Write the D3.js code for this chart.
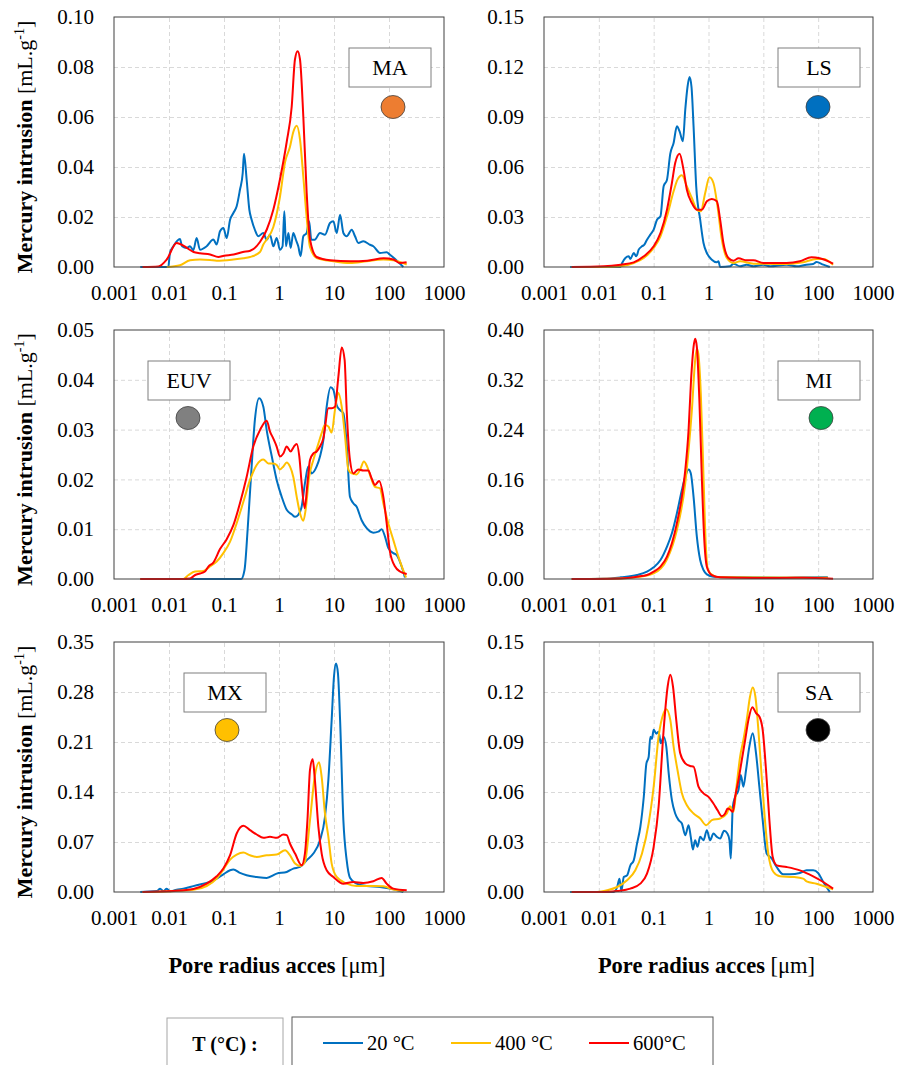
<!DOCTYPE html>
<meta charset="utf-8">
<head>
<style>
  body { margin: 0; background: #fff; }
  svg { font-family: "Liberation Serif", "Times New Roman", serif; }
  .grid line { stroke: #d9d9d9; stroke-dasharray: 4,3; }
  .grid path { display: none; }
  .axis path, .axis line { display: none; }
  .axis text { font-family: "Liberation Serif", serif; font-size: 21px; fill: #000; }
</style>
</head>
<body>
<svg id="chart" width="908" height="1065"></svg>
<script src="https://d3js.org/d3.v7.min.js"></script>
<script>

// x axis (pore radius, log)
var xTicks = [0.001, 0.01, 0.1, 1, 10, 100, 1000];
var xTickLabels = ["0.001", "0.01", "0.1", "1", "10", "100", "1000"];

// y ticks per panel
var maTicks = [0, 0.02, 0.04, 0.06, 0.08, 0.10];
var lsTicks = [0, 0.03, 0.06, 0.09, 0.12, 0.15];
var euvTicks = [0, 0.01, 0.02, 0.03, 0.04, 0.05];
var miTicks = [0, 0.08, 0.16, 0.24, 0.32, 0.40];
var mxTicks = [0, 0.07, 0.14, 0.21, 0.28, 0.35];
var saTicks = [0, 0.03, 0.06, 0.09, 0.12, 0.15];

var panelNames = ["MA", "LS", "EUV", "MI", "MX", "SA"];
var seriesNames = ["20 °C", "400 °C", "600°C"];

// [radius µm, intrusion mL/g]
var maBlue = [[0.003,0],[0.0097,0],[0.0104,0.0056],[0.012,0.0083],[0.0158,0.0112],[0.0173,0.0083],[0.021,0.0076],[0.0241,0.0083],[0.0277,0.0067],[0.0318,0.0116],[0.0366,0.0069],[0.0484,0.0083],[0.064,0.011],[0.0736,0.009],[0.0846,0.0143],[0.0973,0.0156],[0.112,0.0116],[0.129,0.0189],[0.148,0.0216],[0.17,0.0243],[0.195,0.0309],[0.219,0.0376],[0.231,0.0453],[0.258,0.035],[0.289,0.0229],[0.318,0.0189],[0.364,0.0149],[0.418,0.0123],[0.519,0.0136],[0.597,0.0109],[0.686,0.0129],[0.789,0.0083],[0.907,0.0116],[1.04,0.0069],[1.16,0.0083],[1.25,0.0223],[1.34,0.0083],[1.48,0.0136],[1.63,0.0076],[1.82,0.0136],[2.03,0.0109],[2.24,0.0083],[2.47,0.0043],[2.77,0.0123],[3.18,0.0136],[3.53,0.0183],[3.87,0.0109],[4.45,0.0109],[5.56,0.0136],[6.85,0.0129],[8.46,0.0176],[9.73,0.0183],[11.2,0.0136],[12.9,0.0209],[14.8,0.0136],[17,0.0123],[21,0.0149],[24.1,0.0123],[27.7,0.0096],[34.1,0.0103],[45.1,0.0089],[51.9,0.0083],[68.6,0.0056],[90.7,0.0059],[104,0.0049],[129,0.0032],[182,0]];
var maYellow = [[0.0091,0],[0.0158,0.0007],[0.0241,0.0027],[0.0366,0.003],[0.0556,0.0028],[0.0736,0.0025],[0.148,0.003],[0.225,0.0035],[0.297,0.004],[0.451,0.006],[0.519,0.009],[0.597,0.011],[0.789,0.016],[1.04,0.028],[1.29,0.042],[1.58,0.048],[1.82,0.054],[2.1,0.0565],[2.41,0.051],[2.77,0.036],[3.18,0.02],[3.66,0.008],[4.84,0.0036],[9.73,0.0023],[19.5,0.0016],[39.3,0.0023],[78.9,0.003],[120,0.0027],[210,0.001]];
var maRed = [[0.0033,0],[0.0064,0.0002],[0.0091,0.003],[0.0138,0.0096],[0.02,0.008],[0.028,0.006],[0.0366,0.0055],[0.056,0.005],[0.079,0.004],[0.1,0.0045],[0.15,0.005],[0.22,0.006],[0.3,0.0065],[0.45,0.01],[0.6,0.015],[0.79,0.023],[1.04,0.035],[1.38,0.05],[1.7,0.064],[1.95,0.083],[2.18,0.0863],[2.41,0.083],[2.77,0.06],[3.18,0.03],[3.66,0.011],[4.84,0.004],[8.5,0.0027],[20,0.0023],[40,0.0025],[80,0.0035],[120,0.003],[158,0.0016],[209,0.0019]];

var lsBlue = [[0.003,0],[0.0248,0],[0.0266,0.0024],[0.0305,0.0054],[0.0351,0.0064],[0.0376,0.0048],[0.0433,0.0084],[0.0484,0.0064],[0.0533,0.0104],[0.0613,0.0124],[0.0676,0.0134],[0.0756,0.0164],[0.0869,0.0194],[0.1,0.0224],[0.115,0.0284],[0.133,0.0304],[0.152,0.0484],[0.175,0.0524],[0.201,0.068],[0.231,0.0744],[0.265,0.0844],[0.297,0.0814],[0.341,0.0754],[0.377,0.0944],[0.414,0.108],[0.451,0.114],[0.49,0.108],[0.534,0.0844],[0.597,0.0484],[0.705,0.0284],[0.811,0.0144],[0.933,0.0084],[1.15,0.0044],[1.42,0.0028],[1.52,0.0034],[1.63,0],[2.47,0.0004],[2.85,0.002],[3.77,0.0004],[4.98,0.0014],[6.59,0.0004],[10,0.0014],[13.3,0.0004],[26.5,0.0014],[40.4,0.0004],[61.4,0.0014],[81.2,0.0018],[93.3,0.003],[124,0.0014],[163,0]];
var lsYellow = [[0.0032,0],[0.0124,0],[0.025,0.0004],[0.0433,0.0024],[0.066,0.0054],[0.1,0.0114],[0.133,0.0184],[0.175,0.0304],[0.231,0.0454],[0.272,0.0524],[0.327,0.055],[0.403,0.0484],[0.497,0.0414],[0.613,0.0344],[0.724,0.0334],[0.87,0.0444],[1.04,0.0538],[1.23,0.0504],[1.46,0.0364],[1.75,0.0164],[2.16,0.0054],[2.85,0.0024],[3.77,0.0034],[6.59,0.002],[26.5,0.0018],[53,0.0028],[93.3,0.0048],[124,0.0048],[187,0.0014]];
var lsRed = [[0.0032,0],[0.0124,0.0004],[0.025,0.0014],[0.0433,0.0028],[0.066,0.0064],[0.1,0.0124],[0.133,0.0204],[0.175,0.0344],[0.215,0.0504],[0.247,0.0624],[0.297,0.068],[0.35,0.0584],[0.403,0.0464],[0.497,0.0384],[0.613,0.0344],[0.755,0.0344],[0.933,0.0394],[1.15,0.0408],[1.42,0.0394],[1.63,0.0284],[1.87,0.0144],[2.31,0.0054],[2.85,0.0038],[3.52,0.0052],[4.98,0.004],[6.59,0.004],[10,0.0024],[26.5,0.0024],[46.4,0.0034],[75.6,0.0058],[107,0.0052],[187,0.002]];

var euvBlue = [[0.003,0],[0.205,0],[0.236,0.0018],[0.271,0.0105],[0.318,0.0226],[0.364,0.0319],[0.436,0.0363],[0.519,0.0346],[0.597,0.0299],[0.74,0.0246],[0.907,0.0199],[1.12,0.0165],[1.38,0.0139],[1.7,0.013],[1.96,0.0125],[2.24,0.0129],[2.58,0.0145],[2.96,0.0192],[3.41,0.0226],[3.93,0.0212],[4.84,0.0226],[5.56,0.0246],[6.4,0.0279],[7.36,0.0346],[8.68,0.0385],[9.73,0.038],[11.2,0.0349],[12.9,0.0339],[14.8,0.0333],[17,0.0272],[19.5,0.0165],[22.5,0.0152],[25.8,0.0145],[31.8,0.0118],[39.3,0.0102],[51.9,0.0093],[64,0.0095],[73.6,0.01],[84.6,0.0085],[97.3,0.0062],[120,0.0052],[138,0.0048],[170,0.0025],[195,0.0003]];
var euvYellow = [[0.003,0],[0.0182,0],[0.0226,0.0008],[0.0299,0.0015],[0.0421,0.0016],[0.0556,0.0025],[0.0736,0.0035],[0.0973,0.0052],[0.129,0.0075],[0.17,0.0112],[0.225,0.0155],[0.297,0.0199],[0.393,0.0229],[0.519,0.024],[0.64,0.0232],[0.789,0.0232],[0.907,0.0229],[1.04,0.022],[1.2,0.0226],[1.38,0.0234],[1.58,0.0226],[1.82,0.0205],[2.1,0.0165],[2.41,0.0132],[2.77,0.0117],[3.05,0.0139],[3.53,0.0205],[4.21,0.0239],[5.2,0.0272],[5.97,0.0293],[6.85,0.0309],[7.9,0.0306],[9.07,0.0294],[10.4,0.0339],[12,0.0374],[13.8,0.0346],[15.9,0.0286],[18.3,0.0219],[21,0.0212],[25.8,0.021],[29.7,0.0219],[35,0.0236],[40,0.0226],[48.4,0.0199],[55.7,0.0185],[68.6,0.0182],[78.9,0.0152],[97,0.0112],[120,0.0078],[148,0.0045],[204,0.0003]];
var euvRed = [[0.003,0],[0.0182,0],[0.0241,0.0001],[0.0299,0.0008],[0.0366,0.0011],[0.045,0.0015],[0.052,0.0025],[0.064,0.0033],[0.0846,0.006],[0.112,0.008],[0.148,0.0108],[0.195,0.0152],[0.258,0.0205],[0.341,0.0266],[0.451,0.0299],[0.597,0.0318],[0.686,0.0296],[0.789,0.0282],[0.907,0.0266],[1.04,0.0246],[1.2,0.0252],[1.38,0.0266],[1.63,0.0256],[1.87,0.0266],[2.1,0.0271],[2.34,0.0246],[2.58,0.0192],[2.93,0.0142],[3.29,0.0192],[3.66,0.0239],[4.21,0.0252],[4.84,0.0256],[5.56,0.0266],[6.4,0.0282],[7.9,0.0343],[9.07,0.0343],[10.4,0.0346],[12,0.0406],[13.8,0.0465],[15.6,0.044],[17,0.0339],[19.5,0.0239],[22.5,0.0212],[27.7,0.022],[34.1,0.0218],[42,0.0218],[48.4,0.0202],[55.7,0.0189],[66,0.0197],[78.9,0.0165],[90.7,0.0112],[104,0.0055],[129,0.0025],[158,0.0015],[210,0.001]];

var miBlue = [[0.0032,0],[0.0124,0.0005],[0.025,0.0027],[0.0497,0.0064],[0.0756,0.0118],[0.1,0.0187],[0.133,0.0305],[0.175,0.052],[0.215,0.0734],[0.265,0.1055],[0.327,0.143],[0.377,0.1644],[0.433,0.176],[0.475,0.17],[0.534,0.132],[0.613,0.068],[0.705,0.0305],[0.811,0.0145],[0.933,0.0075],[1.23,0.0037],[3.3,0.0027],[26.5,0.0022],[150,0.0027]];
var miYellow = [[0.0032,0],[0.025,0.0008],[0.0497,0.003],[0.1,0.009],[0.175,0.0316],[0.265,0.0787],[0.377,0.154],[0.433,0.207],[0.497,0.271],[0.572,0.352],[0.613,0.37],[0.652,0.362],[0.724,0.298],[0.811,0.164],[0.89,0.057],[0.98,0.0145],[1.23,0.0054],[1.63,0.0027],[90,0.0022],[150,0.002]];
var miRed = [[0.0032,0],[0.025,0.001],[0.0497,0.0037],[0.0756,0.0064],[0.1,0.0118],[0.133,0.0198],[0.175,0.0359],[0.215,0.0573],[0.265,0.0894],[0.327,0.132],[0.377,0.175],[0.433,0.239],[0.481,0.32],[0.534,0.373],[0.572,0.386],[0.613,0.373],[0.685,0.282],[0.755,0.164],[0.832,0.068],[0.933,0.0198],[1.15,0.0064],[1.63,0.0027],[6.6,0.0016],[53,0.002],[187,0.0005]];

var mxBlue = [[0.003,0],[0.006,0.0014],[0.0069,0.0047],[0.0079,0.0014],[0.0091,0.0047],[0.0104,0.001],[0.0138,0.0033],[0.0182,0.0047],[0.0241,0.007],[0.0318,0.0094],[0.0421,0.0117],[0.0556,0.014],[0.0736,0.0187],[0.0973,0.0248],[0.129,0.0304],[0.148,0.0314],[0.195,0.0267],[0.258,0.0234],[0.393,0.0211],[0.597,0.0197],[0.907,0.0257],[1.38,0.0281],[1.82,0.0328],[2.41,0.0351],[3.18,0.0445],[4.21,0.0538],[5.56,0.0725],[6.85,0.105],[7.9,0.157],[9.07,0.241],[10,0.302],[10.9,0.32],[11.8,0.306],[12.9,0.241],[14.8,0.1006],[17,0.0445],[19.5,0.0201],[25.8,0.0117],[39.3,0.0084],[68.6,0.007],[104,0.0047],[182,0]];
var mxYellow = [[0.0033,0],[0.0277,0.0033],[0.0484,0.0084],[0.0736,0.0187],[0.0973,0.0314],[0.129,0.0454],[0.17,0.0524],[0.225,0.0552],[0.297,0.0515],[0.393,0.0491],[0.597,0.0515],[0.907,0.0524],[1.29,0.0585],[1.58,0.0515],[1.96,0.0398],[2.41,0.0365],[2.96,0.0421],[3.66,0.1006],[4.45,0.161],[5.35,0.1816],[5.97,0.161],[6.85,0.11],[7.9,0.0772],[9.07,0.0398],[11.2,0.0211],[17,0.0117],[25.8,0.0084],[51.9,0.0084],[78.9,0.008],[120,0.0033],[182,0.0014]];
var mxRed = [[0.0033,0],[0.012,0.0014],[0.0277,0.0042],[0.0484,0.0117],[0.0736,0.022],[0.0973,0.0328],[0.129,0.0515],[0.17,0.0819],[0.225,0.0927],[0.297,0.0866],[0.393,0.0805],[0.519,0.0758],[0.686,0.0772],[0.907,0.0758],[1.2,0.0805],[1.38,0.0796],[1.58,0.0679],[1.96,0.0538],[2.58,0.0374],[2.96,0.0538],[3.29,0.1006],[3.66,0.171],[4.1,0.186],[4.45,0.161],[5.2,0.0912],[5.97,0.0538],[7.36,0.0304],[9.73,0.0211],[14.8,0.0117],[22.5,0.014],[34.1,0.0126],[51.9,0.015],[73.6,0.0197],[90.7,0.0117],[120,0.0047],[210,0.0023]];

var saBlue = [[0.003,0],[0.0187,0],[0.0216,0.003],[0.0238,0.008],[0.0258,0.0006],[0.0285,0.009],[0.0327,0.01],[0.0376,0.016],[0.0433,0.019],[0.0497,0.029],[0.0571,0.039],[0.066,0.057],[0.0736,0.077],[0.081,0.081],[0.087,0.0932],[0.093,0.092],[0.1,0.0973],[0.112,0.095],[0.123,0.0962],[0.135,0.0892],[0.152,0.0932],[0.17,0.0872],[0.188,0.0712],[0.215,0.0551],[0.247,0.0471],[0.285,0.0431],[0.327,0.0411],[0.377,0.0341],[0.433,0.0401],[0.475,0.0331],[0.519,0.0255],[0.57,0.0311],[0.63,0.0271],[0.705,0.0331],[0.811,0.0311],[0.933,0.0371],[1.07,0.0311],[1.23,0.0351],[1.42,0.0331],[1.63,0.0321],[1.92,0.0367],[2.21,0.0351],[2.41,0.0311],[2.55,0.0201],[2.77,0.0511],[3.06,0.0571],[3.52,0.0612],[3.88,0.0702],[4.33,0.0632],[4.84,0.0732],[5.56,0.0872],[6.4,0.0952],[7.36,0.0832],[8.46,0.0632],[9.73,0.0431],[11.5,0.0231],[14.2,0.0201],[17.5,0.015],[23.1,0.0106],[30.6,0.0106],[46.4,0.0114],[61.4,0.013],[81.2,0.013],[99.7,0.0114],[124,0.006],[163,0]];
var saYellow = [[0.0032,0],[0.0093,0],[0.0142,0.001],[0.0216,0.003],[0.0327,0.007],[0.0463,0.013],[0.0613,0.0231],[0.081,0.0411],[0.1,0.0632],[0.123,0.0932],[0.152,0.1073],[0.17,0.1097],[0.201,0.1033],[0.231,0.0872],[0.272,0.0732],[0.327,0.0592],[0.403,0.0521],[0.534,0.0471],[0.705,0.0441],[0.907,0.0401],[1.15,0.0431],[1.63,0.0441],[2.16,0.0471],[2.47,0.0515],[2.85,0.0481],[3.29,0.0652],[3.77,0.0812],[4.33,0.0912],[4.98,0.1033],[5.72,0.1173],[6.4,0.1227],[7.16,0.1173],[8.12,0.0973],[9.33,0.0692],[10.7,0.0431],[12.3,0.0231],[15.3,0.012],[20.1,0.0094],[35,0.009],[53.3,0.008],[61.4,0.0064],[93.3,0.005],[187,0.0016]];
var saRed = [[0.0032,0],[0.0124,0],[0.0216,0.0006],[0.0376,0.002],[0.0571,0.005],[0.0756,0.011],[0.1,0.0271],[0.123,0.0511],[0.152,0.0973],[0.18,0.1233],[0.201,0.1303],[0.225,0.1233],[0.258,0.1033],[0.305,0.0832],[0.377,0.0772],[0.463,0.0756],[0.534,0.0752],[0.657,0.0632],[0.811,0.0592],[1.0,0.0571],[1.23,0.0531],[1.46,0.0491],[1.75,0.0455],[2.01,0.0471],[2.24,0.0501],[2.47,0.0495],[2.77,0.0481],[3.06,0.0571],[3.52,0.0672],[4.05,0.0792],[4.66,0.0912],[5.35,0.1033],[6.32,0.1109],[7.36,0.1073],[8.46,0.1053],[9.73,0.0973],[11.2,0.0732],[12.9,0.0431],[14.8,0.0211],[17.5,0.016],[26.5,0.015],[46.4,0.013],[81.2,0.0094],[124,0.006],[187,0.002]];

// styles
var seriesColors = ["#0070C0", "#FFC000", "#FF0000"];
var dotColors = ["#ED7D31", "#0070C0", "#808080", "#00B050", "#FFC000", "#000000"];

// panel layout: plot box, label box offset, dot offset
var panels = [
  {x: 114, y: 17,  w: 330, h: 250, ticks: maTicks,  series: [maBlue, maYellow, maRed],    bx: 235, by: 31, cx: 279, cy: 90},
  {x: 544, y: 17,  w: 329, h: 250, ticks: lsTicks,  series: [lsBlue, lsYellow, lsRed],    bx: 234, by: 31, cx: 274, cy: 90},
  {x: 114, y: 330, w: 330, h: 249, ticks: euvTicks, series: [euvBlue, euvYellow, euvRed], bx: 34,  by: 31, cx: 74,  cy: 88},
  {x: 544, y: 330, w: 329, h: 249, ticks: miTicks,  series: [miBlue, miYellow, miRed],    bx: 234, by: 31, cx: 277, cy: 88},
  {x: 114, y: 642, w: 330, h: 250, ticks: mxTicks,  series: [mxBlue, mxYellow, mxRed],    bx: 70,  by: 31, cx: 113, cy: 88},
  {x: 544, y: 642, w: 329, h: 250, ticks: saTicks,  series: [saBlue, saYellow, saRed],    bx: 234, by: 31, cx: 274, cy: 88}
];

var svg = d3.select("#chart");
svg.append("rect").attr("width", 908).attr("height", 1065).attr("fill", "#fff");

panels.forEach(function(p, i) {
  var g = svg.append("g").attr("transform", "translate(" + p.x + "," + p.y + ")");

  var x = d3.scaleLog().domain([0.001, 1000]).range([0, p.w]);
  var y = d3.scaleLinear().domain([0, p.ticks[p.ticks.length - 1]]).range([p.h, 0]);

  // gridlines
  g.append("g").attr("class", "grid")
    .attr("transform", "translate(0," + p.h + ")")
    .call(d3.axisBottom(x).tickValues(xTicks.slice(1, -1)).tickSize(-p.h).tickFormat(""));
  g.append("g").attr("class", "grid")
    .call(d3.axisLeft(y).tickValues(p.ticks.slice(1, -1)).tickSize(-p.w).tickFormat(""));

  // curves
  var line = d3.line()
    .x(function(d) { return x(d[0]); })
    .y(function(d) { return y(d[1]); })
    .curve(d3.curveMonotoneX);
  p.series.forEach(function(s, k) {
    g.append("path").datum(s)
      .attr("d", line)
      .attr("fill", "none")
      .attr("stroke", seriesColors[k])
      .attr("stroke-width", 2)
      .attr("stroke-linejoin", "round");
  });

  // frame
  g.append("rect").attr("width", p.w).attr("height", p.h)
    .attr("fill", "none").attr("stroke", "#404040").attr("stroke-width", 1);

  // tick labels
  g.append("g").attr("class", "axis")
    .attr("transform", "translate(0," + p.h + ")")
    .call(d3.axisBottom(x).tickValues(xTicks)
      .tickFormat(function(d, j) { return xTickLabels[j]; })
      .tickSize(0).tickPadding(18));
  g.append("g").attr("class", "axis")
    .call(d3.axisLeft(y).tickValues(p.ticks).tickFormat(d3.format(".2f"))
      .tickSize(0).tickPadding(20));

  // sample label + dot
  g.append("rect").attr("x", p.bx).attr("y", p.by).attr("width", 82).attr("height", 39)
    .attr("fill", "#fff").attr("stroke", "#7f7f7f").attr("stroke-width", 1);
  g.append("text").attr("x", p.bx + 41).attr("y", p.by + 27)
    .attr("text-anchor", "middle").style("font-size", "22px")
    .text(panelNames[i]);
  g.append("ellipse").attr("cx", p.cx).attr("cy", p.cy).attr("rx", 12).attr("ry", 11.5)
    .attr("fill", dotColors[i]).attr("stroke", "#404040").attr("stroke-width", 0.8);

  // y title on left column
  if (i % 2 === 0) {
    var t = svg.append("text")
      .attr("transform", "translate(32," + (p.y + p.h / 2 + 5) + ") rotate(-90)")
      .attr("text-anchor", "middle").style("font-size", "22px");
    t.append("tspan").attr("font-weight", "bold").text("Mercury intrusion ");
    t.append("tspan").text("[mL.g");
    t.append("tspan").attr("dy", -8).style("font-size", "14px").text("-1");
    t.append("tspan").attr("dy", 8).text("]");
  }

  // x title on bottom row
  if (i >= 4) {
    var xt = svg.append("text")
      .attr("x", p.x + p.w / 2 - 2).attr("y", 973)
      .attr("text-anchor", "middle").style("font-size", "22.5px");
    xt.append("tspan").attr("font-weight", "bold").text("Pore radius acces ");
    xt.append("tspan").text("[μm]");
  }
});

// legend
svg.append("rect").attr("x", 167).attr("y", 1018).attr("width", 116).attr("height", 60)
  .attr("fill", "#fff").attr("stroke", "#a6a6a6");
svg.append("text").attr("x", 225).attr("y", 1051).attr("text-anchor", "middle")
  .style("font-size", "20px").attr("font-weight", "bold").text("T (°C) :");
svg.append("rect").attr("x", 292).attr("y", 1017).attr("width", 421).attr("height", 60)
  .attr("fill", "#fff").attr("stroke", "#595959");

var legendX = [323, 451, 589];
var leg = svg.selectAll(".leg").data(seriesNames).enter().append("g")
  .attr("class", "leg")
  .attr("transform", function(d, k) { return "translate(" + legendX[k] + ",1043)"; });
leg.append("line").attr("x1", 0).attr("x2", 40)
  .attr("stroke", function(d, k) { return seriesColors[k]; }).attr("stroke-width", 2);
leg.append("text").attr("x", 44).attr("y", 7).style("font-size", "20.5px")
  .text(function(d) { return d; });

</script>
</body>
